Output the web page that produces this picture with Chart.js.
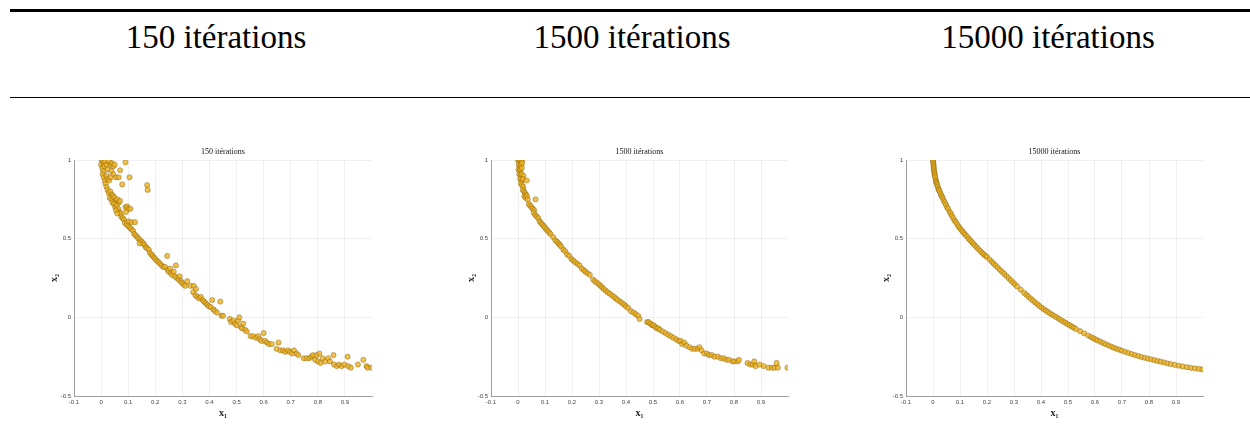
<!DOCTYPE html>
<html><head><meta charset="utf-8">
<script src="https://cdn.jsdelivr.net/npm/chart.js@4.4.0/dist/chart.umd.min.js"></script>
<style>
body{margin:0;width:1250px;height:439px;background:#fff;position:relative;overflow:hidden;}
.rule{position:absolute;left:10px;width:1240px;background:#000;}
.hd{position:absolute;top:17px;font-family:'Liberation Serif',serif;font-size:33px;color:#000;transform:translateX(-50%);white-space:nowrap;line-height:40px}
.cw{position:absolute;top:140px;height:280px}
canvas{display:block}
</style></head><body>
<div class="rule" style="top:9px;height:3px"></div>
<div class="rule" style="top:97px;height:1px"></div>
<div class="hd" style="left:216px">150 itérations</div>
<div class="hd" style="left:632px">1500 itérations</div>
<div class="hd" style="left:1048px">15000 itérations</div>
<div class="cw" style="left:40px;width:340px"><canvas id="c1" width="340" height="280"></canvas></div>
<div class="cw" style="left:457px;width:339px"><canvas id="c2" width="339" height="280"></canvas></div>
<div class="cw" style="left:872px;width:339px"><canvas id="c3" width="339" height="280"></canvas></div>
<script>
const headers = ['150 itérations', '1500 itérations', '15000 itérations'];
const xTickValues = [-0.1, 0, 0.1, 0.2, 0.3, 0.4, 0.5, 0.6, 0.7, 0.8, 0.9];
const xTickLabels = ['-0.1', '0', '0.1', '0.2', '0.3', '0.4', '0.5', '0.6', '0.7', '0.8', '0.9'];
const yTickValues = [-0.5, 0, 0.5, 1];
const yTickLabels = ['-0.5', '0', '0.5', '1'];

// 150 iterations
const x150 = [0.000,0.002,0.006,0.010,0.004,0.008,0.012,0.015,0.020,0.025,0.030,0.035,0.040,0.045,0.050,0.038,0.045,0.055,0.065,0.070,0.090,0.105,0.078,0.170,0.172,0.006,0.010,0.014,0.020,0.025,0.030,0.035,0.016,0.020,0.024,0.028,0.034,0.040,0.032,0.038,0.045,0.050,0.055,0.060,0.065,0.070,0.042,0.048,0.052,0.058,0.063,0.068,0.072,0.055,0.060,0.075,0.080,0.085,0.090,0.096,0.100,0.108,0.092,0.088,0.094,0.100,0.102,0.112,0.125,0.106,0.112,0.118,0.122,0.128,0.134,0.138,0.145,0.150,0.142,0.156,0.160,0.165,0.170,0.176,0.180,0.186,0.190,0.196,0.200,0.206,0.212,0.218,0.224,0.230,0.236,0.244,0.246,0.250,0.255,0.258,0.262,0.268,0.272,0.276,0.280,0.286,0.290,0.294,0.298,0.304,0.310,0.318,0.330,0.342,0.350,0.340,0.348,0.356,0.362,0.368,0.375,0.380,0.386,0.392,0.398,0.405,0.410,0.415,0.420,0.428,0.440,0.445,0.450,0.475,0.480,0.488,0.494,0.500,0.506,0.510,0.516,0.520,0.525,0.532,0.538,0.552,0.562,0.572,0.580,0.586,0.592,0.600,0.605,0.612,0.620,0.630,0.648,0.655,0.662,0.672,0.680,0.690,0.698,0.705,0.712,0.722,0.728,0.748,0.758,0.768,0.776,0.782,0.790,0.796,0.800,0.806,0.810,0.818,0.828,0.838,0.845,0.858,0.860,0.870,0.878,0.888,0.898,0.910,0.912,0.922,0.948,0.968,0.980,0.984,0.998];
const y150 = [0.97,1.00,0.99,0.98,0.95,0.93,0.96,0.99,0.97,0.94,0.99,0.97,0.98,0.96,0.97,0.93,0.91,0.89,0.89,0.935,0.985,0.89,0.845,0.84,0.81,0.91,0.89,0.87,0.90,0.88,0.87,0.89,0.85,0.83,0.81,0.79,0.80,0.78,0.76,0.75,0.77,0.76,0.74,0.75,0.73,0.74,0.73,0.72,0.70,0.71,0.69,0.67,0.66,0.68,0.66,0.64,0.63,0.62,0.70,0.705,0.69,0.69,0.67,0.60,0.59,0.58,0.61,0.605,0.605,0.57,0.56,0.55,0.53,0.52,0.51,0.50,0.49,0.48,0.47,0.47,0.46,0.445,0.44,0.43,0.41,0.40,0.39,0.38,0.37,0.36,0.35,0.34,0.33,0.32,0.32,0.39,0.30,0.29,0.31,0.28,0.27,0.29,0.26,0.33,0.25,0.24,0.26,0.23,0.22,0.21,0.20,0.23,0.20,0.20,0.18,0.16,0.14,0.13,0.12,0.13,0.11,0.10,0.09,0.08,0.07,0.065,0.11,0.05,0.04,0.03,0.10,0.01,0.01,-0.01,-0.03,-0.02,-0.04,-0.05,-0.02,0.00,-0.06,-0.07,-0.04,-0.08,-0.09,-0.12,-0.12,-0.13,-0.12,-0.14,-0.15,-0.10,-0.15,-0.16,-0.17,-0.17,-0.20,-0.16,-0.21,-0.21,-0.22,-0.21,-0.22,-0.23,-0.21,-0.23,-0.24,-0.26,-0.26,-0.26,-0.25,-0.24,-0.27,-0.24,-0.28,-0.23,-0.29,-0.26,-0.28,-0.26,-0.28,-0.24,-0.30,-0.31,-0.30,-0.31,-0.30,-0.25,-0.31,-0.32,-0.30,-0.27,-0.31,-0.32,-0.32];

// 1500 iterations
const x1500 = [0.000,0.004,0.008,0.012,0.016,0.003,0.007,0.011,0.015,0.002,0.006,0.010,0.014,0.005,0.009,0.013,0.020,0.008,0.012,0.018,0.032,0.011,0.015,0.020,0.018,0.022,0.026,0.030,0.024,0.028,0.033,0.036,0.040,0.045,0.050,0.055,0.060,0.065,0.058,0.064,0.070,0.075,0.080,0.085,0.090,0.096,0.100,0.105,0.110,0.115,0.120,0.130,0.138,0.145,0.150,0.155,0.160,0.168,0.175,0.182,0.190,0.198,0.205,0.212,0.220,0.228,0.236,0.244,0.250,0.258,0.266,0.278,0.285,0.292,0.300,0.306,0.312,0.318,0.325,0.332,0.340,0.348,0.356,0.362,0.370,0.378,0.386,0.394,0.400,0.408,0.418,0.428,0.436,0.445,0.450,0.478,0.484,0.490,0.496,0.502,0.508,0.514,0.520,0.526,0.536,0.546,0.556,0.566,0.576,0.586,0.595,0.602,0.608,0.616,0.624,0.635,0.645,0.655,0.665,0.672,0.680,0.690,0.700,0.708,0.718,0.728,0.740,0.752,0.762,0.772,0.782,0.795,0.802,0.814,0.818,0.850,0.860,0.870,0.875,0.880,0.895,0.910,0.928,0.940,0.950,0.958,0.962,0.998];
const y1500 = [1.00,0.99,1.00,0.99,1.00,0.97,0.96,0.97,0.98,0.94,0.93,0.94,0.95,0.91,0.90,0.91,0.90,0.88,0.87,0.88,0.87,0.85,0.84,0.83,0.81,0.80,0.79,0.78,0.77,0.76,0.77,0.75,0.72,0.71,0.70,0.69,0.68,0.75,0.665,0.65,0.64,0.63,0.61,0.60,0.59,0.58,0.57,0.56,0.55,0.54,0.53,0.51,0.49,0.48,0.47,0.46,0.45,0.43,0.42,0.40,0.39,0.37,0.36,0.35,0.34,0.33,0.31,0.30,0.29,0.28,0.27,0.24,0.23,0.22,0.21,0.20,0.19,0.18,0.17,0.16,0.15,0.14,0.13,0.12,0.11,0.10,0.09,0.08,0.07,0.06,0.04,0.03,0.02,0.01,-0.01,-0.03,-0.03,-0.04,-0.05,-0.05,-0.06,-0.07,-0.07,-0.08,-0.09,-0.10,-0.11,-0.12,-0.13,-0.14,-0.15,-0.15,-0.17,-0.16,-0.18,-0.19,-0.20,-0.20,-0.20,-0.19,-0.21,-0.23,-0.23,-0.24,-0.24,-0.25,-0.25,-0.26,-0.26,-0.27,-0.27,-0.28,-0.28,-0.28,-0.27,-0.29,-0.30,-0.30,-0.28,-0.31,-0.30,-0.31,-0.32,-0.32,-0.32,-0.29,-0.32,-0.32];

// 15000 iterations
const x15000 = [0.000,0.001,0.001,0.002,0.002,0.003,0.003,0.004,0.005,0.006,0.007,0.008,0.010,0.011,0.012,0.014,0.016,0.018,0.020,0.022,0.025,0.028,0.031,0.034,0.037,0.040,0.044,0.048,0.052,0.056,0.062,0.066,0.070,0.075,0.080,0.085,0.090,0.095,0.100,0.105,0.110,0.115,0.120,0.126,0.132,0.138,0.144,0.150,0.156,0.162,0.168,0.175,0.182,0.188,0.195,0.200,0.210,0.218,0.225,0.232,0.240,0.248,0.256,0.264,0.272,0.280,0.288,0.296,0.304,0.312,0.325,0.338,0.346,0.354,0.362,0.370,0.378,0.386,0.394,0.402,0.410,0.418,0.426,0.434,0.442,0.450,0.458,0.466,0.474,0.482,0.490,0.498,0.506,0.514,0.522,0.530,0.545,0.560,0.575,0.586,0.594,0.602,0.610,0.620,0.630,0.640,0.650,0.660,0.670,0.680,0.690,0.700,0.712,0.724,0.736,0.748,0.760,0.772,0.784,0.796,0.808,0.820,0.832,0.844,0.856,0.868,0.880,0.895,0.910,0.925,0.940,0.955,0.970,0.985,0.998];
const y15000 = [1.00,0.99,0.98,0.97,0.96,0.95,0.94,0.93,0.92,0.91,0.90,0.89,0.875,0.865,0.858,0.85,0.84,0.83,0.815,0.81,0.80,0.785,0.775,0.765,0.755,0.74,0.73,0.715,0.70,0.69,0.67,0.66,0.645,0.63,0.615,0.605,0.59,0.577,0.565,0.555,0.545,0.535,0.525,0.513,0.50,0.49,0.478,0.467,0.456,0.445,0.434,0.422,0.41,0.40,0.39,0.384,0.367,0.353,0.341,0.329,0.316,0.302,0.289,0.276,0.262,0.249,0.236,0.222,0.209,0.196,0.176,0.155,0.143,0.131,0.119,0.107,0.095,0.084,0.073,0.062,0.052,0.043,0.034,0.025,0.016,0.008,0.000,-0.009,-0.017,-0.026,-0.034,-0.043,-0.050,-0.058,-0.066,-0.074,-0.088,-0.102,-0.116,-0.126,-0.133,-0.140,-0.147,-0.155,-0.163,-0.171,-0.178,-0.186,-0.193,-0.200,-0.206,-0.212,-0.219,-0.226,-0.233,-0.240,-0.246,-0.252,-0.257,-0.262,-0.267,-0.272,-0.277,-0.282,-0.287,-0.292,-0.297,-0.302,-0.307,-0.312,-0.317,-0.321,-0.325,-0.328,-0.331];

const titlePlugin = {
  id: 'innerTitle',
  afterDraw(chart, args, opts) {
    const {ctx, chartArea} = chart;
    ctx.save();
    ctx.font = '8px "Liberation Serif"';
    ctx.textAlign = 'center';
    ctx.textBaseline = 'middle';
    ctx.fillStyle = '#111';
    ctx.fillText(opts.text, (chartArea.left + chartArea.right) / 2, chartArea.top - 8);
    ctx.restore();
  }
};

function makeChart(id, title, xs, ys) {
  const pts = xs.map((x, i) => ({x: x, y: ys[i]}));
  return new Chart(document.getElementById(id), {
    type: 'scatter',
    data: {datasets: [{
      data: pts,
      pointRadius: 2.6,
      pointHoverRadius: 2.6,
      pointBackgroundColor: 'rgba(237,177,32,0.8)',
      pointBorderColor: 'rgba(110,80,10,0.65)',
      pointBorderWidth: 0.6
    }]},
    plugins: [titlePlugin],
    options: {
      responsive: false,
      animation: false,
      devicePixelRatio: 1,
      layout: {padding: {top: 20, right: 8, bottom: 0, left: 0}},
      plugins: {legend: {display: false}, tooltip: {enabled: false}, innerTitle: {text: title}},
      scales: {
        x: {
          type: 'linear', min: -0.1, max: 1,
          afterBuildTicks: s => { s.ticks = xTickValues.map(v => ({value: v})); },
          afterFit: s => { s.height = 24; },
          ticks: {
            padding: 3, maxRotation: 0, autoSkip: false,
            font: {family: 'Liberation Sans', size: 6}, color: '#444',
            callback: (v, i) => xTickLabels[i]
          },
          grid: {color: 'rgba(0,0,0,0.075)', lineWidth: 0.8, drawTicks: false},
          border: {color: '#8a8a8a', width: 0.8},
          title: {display: true, text: 'x₁', font: {family: 'Liberation Serif', size: 10, weight: 'bold'}, color: '#222', padding: {top: 0, bottom: 1}}
        },
        y: {
          type: 'linear', min: -0.5, max: 1,
          afterBuildTicks: s => { s.ticks = yTickValues.map(v => ({value: v})); },
          afterFit: s => { s.width = 34; },
          ticks: {
            padding: 3, autoSkip: false,
            font: {family: 'Liberation Sans', size: 6}, color: '#444',
            callback: (v, i) => yTickLabels[i]
          },
          grid: {color: 'rgba(0,0,0,0.075)', lineWidth: 0.8, drawTicks: false},
          border: {color: '#8a8a8a', width: 0.8},
          title: {display: true, text: 'x₂', font: {family: 'Liberation Serif', size: 10, weight: 'bold'}, color: '#222', padding: {top: 8, bottom: 0}}
        }
      }
    }
  });
}
makeChart('c1', headers[0], x150, y150);
makeChart('c2', headers[1], x1500, y1500);
makeChart('c3', headers[2], x15000, y15000);
</script>
</body></html>
